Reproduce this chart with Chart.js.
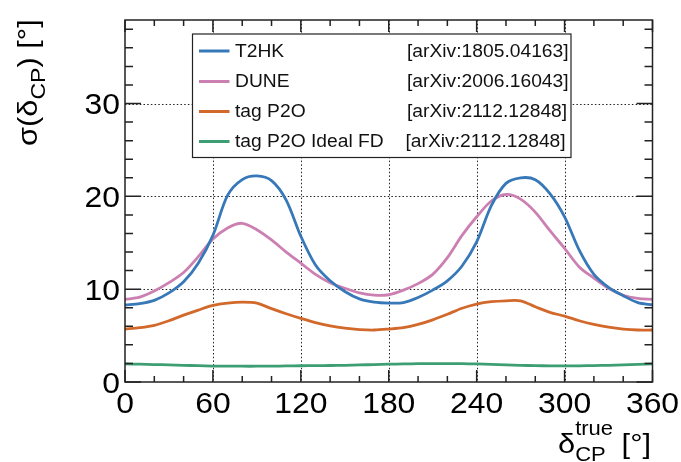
<!DOCTYPE html>
<html>
<head>
<meta charset="utf-8">
<script src="https://cdn.jsdelivr.net/npm/chart.js@4.4.1/dist/chart.umd.min.js"></script>
<style>
html,body{margin:0;padding:0;background:#fff;}
canvas{display:block;}
</style>
</head>
<body>
<canvas id="c" width="681" height="462"></canvas>
<script>
// ---- data ----
const deltaCP = [0,10,20,30,40,50,60,70,80,90,100,110,120,130,140,150,160,170,180,190,200,210,220,230,240,250,260,270,280,290,300,310,320,330,340,350,360];
const t2hk = [8.3,8.45,8.8,9.6,10.8,12.8,15.8,20.1,21.8,22.2,21.7,19.6,15.7,12.6,10.9,9.75,8.95,8.6,8.5,8.55,9.1,9.9,10.9,12.5,15.1,19.0,21.4,22.0,21.8,20.3,17.8,14.2,11.6,10.2,9.3,8.55,8.3];
const dune = [8.9,9.15,9.8,10.7,11.8,13.5,15.4,16.6,17.1,16.4,15.3,14.0,12.8,11.6,10.7,10.1,9.6,9.35,9.4,9.9,10.6,11.6,13.4,15.8,17.8,19.5,20.2,19.7,18.3,16.3,14.4,12.4,11.2,10.1,9.35,9.0,8.9];
const tagP2O = [5.7,5.85,6.1,6.6,7.2,7.75,8.25,8.5,8.6,8.5,7.9,7.35,6.85,6.4,6.05,5.8,5.65,5.6,5.7,5.85,6.2,6.7,7.3,7.95,8.4,8.65,8.75,8.75,8.1,7.5,7.1,6.6,6.2,5.9,5.7,5.6,5.6];
const tagP2OIdeal = [1.95,1.92,1.88,1.85,1.8,1.76,1.72,1.71,1.7,1.7,1.71,1.73,1.75,1.76,1.78,1.8,1.84,1.88,1.92,1.95,1.97,1.98,1.98,1.97,1.95,1.9,1.85,1.8,1.76,1.74,1.73,1.74,1.77,1.8,1.85,1.9,1.95];
const seriesNames = ["T2HK","DUNE","tag P2O","tag P2O Ideal FD"];
const seriesRefs = ["[arXiv:1805.04163]","[arXiv:2006.16043]","[arXiv:2112.12848]","[arXiv:2112.12848]"];
const xTickLabels = [0,60,120,180,240,300,360];
const yTickLabels = [0,10,20,30];

const colors = ["#3778b9","#cc80b2","#d2682a","#3d9e74"];
const FONT = "'Liberation Sans', Arial, Helvetica, sans-serif";
const SX = 1.1; // horizontal glyph stretch seen in the reference

const allSeries = [t2hk, dune, tagP2O, tagP2OIdeal];
const datasets = allSeries.map((arr,i)=>({
  label: seriesNames[i],
  data: deltaCP.map((x,j)=>({x:x,y:arr[j]})),
  borderColor: colors[i],
  borderWidth: 2.8,
  pointRadius: 0,
  tension: 0.3,
  fill: false
}));

function sText(ctx, t, x, y, size, align){
  ctx.save();
  ctx.translate(x,y);
  ctx.scale(SX,1);
  ctx.font = size + "px " + FONT;
  ctx.textAlign = align || "left";
  ctx.fillText(t,0,0);
  ctx.restore();
}

function richText(ctx, parts, x, y, sx){
  ctx.save();
  ctx.translate(x,y);
  ctx.scale(sx,1);
  ctx.textAlign = "left";
  let cx = 0;
  for(const p of parts){
    if(p.stack){
      let w = 0;
      for(const s of p.stack){
        ctx.font = s.size + "px " + FONT;
        ctx.fillText(s.t, cx, s.dy);
        w = Math.max(w, ctx.measureText(s.t).width);
      }
      cx += w;
    } else {
      ctx.font = p.size + "px " + FONT;
      ctx.fillText(p.t, cx, (p.dy||0));
      cx += ctx.measureText(p.t).width;
    }
  }
  ctx.restore();
}

const rootStyle = {
  id: 'rootStyle',
  beforeDatasetsDraw(chart){
    const {ctx, chartArea:a, scales:{x,y}} = chart;
    ctx.save();
    ctx.strokeStyle = "#222";
    ctx.lineWidth = 1;
    ctx.setLineDash([1.5,2.2]);
    for(const v of xTickLabels){
      if(v===0||v===360) continue;
      const px = Math.round(x.getPixelForValue(v))+0.5;
      ctx.beginPath(); ctx.moveTo(px,a.top); ctx.lineTo(px,a.bottom); ctx.stroke();
    }
    for(const v of yTickLabels){
      if(v===0) continue;
      const py = Math.round(y.getPixelForValue(v))+0.5;
      ctx.beginPath(); ctx.moveTo(a.left,py); ctx.lineTo(a.right,py); ctx.stroke();
    }
    ctx.restore();
  },
  afterDatasetsDraw(chart){
    const {ctx, chartArea:a, scales:{x,y}} = chart;
    ctx.save();
    ctx.strokeStyle = "#222";
    ctx.lineWidth = 1.5;
    ctx.setLineDash([]);
    // ticks
    ctx.beginPath();
    for(let v=0; v<=360; v+=20){
      const px = x.getPixelForValue(v);
      const len = (v%60===0)?12:6;
      ctx.moveTo(px,a.bottom); ctx.lineTo(px,a.bottom-len);
      ctx.moveTo(px,a.top); ctx.lineTo(px,a.top+len);
    }
    for(let v=0; v<=38; v+=2){
      const py = y.getPixelForValue(v);
      const len = (v%10===0)?16:8;
      ctx.moveTo(a.left,py); ctx.lineTo(a.left+len,py);
      ctx.moveTo(a.right,py); ctx.lineTo(a.right-len,py);
    }
    ctx.stroke();
    // frame
    ctx.strokeRect(a.left, a.top, a.right-a.left, a.bottom-a.top);

    // tick labels (positions from the Chart.js scales)
    ctx.fillStyle = "#000";
    ctx.textBaseline = "alphabetic";
    for(const t of x.ticks){
      sText(ctx, String(t.value), x.getPixelForValue(t.value), a.bottom + 31, 29, "center");
    }
    for(const t of y.ticks){
      sText(ctx, String(t.value), a.left - 5, y.getPixelForValue(t.value) + 10.5, 29, "right");
    }

    // legend
    const L = 192.5, T = 34, R = 571, B = 157.5;
    ctx.fillStyle = "#fff";
    ctx.fillRect(L,T,R-L,B-T);
    ctx.lineWidth = 1.2;
    ctx.strokeStyle = "#222";
    ctx.strokeRect(L,T,R-L,B-T);
    const rows = [51,81.5,111.5,141.5];
    ctx.textBaseline = "middle";
    for(let i=0;i<4;i++){
      ctx.strokeStyle = colors[i];
      ctx.lineWidth = 3;
      ctx.beginPath(); ctx.moveTo(199,rows[i]); ctx.lineTo(229.5,rows[i]); ctx.stroke();
      ctx.fillStyle = "#111";
      sText(ctx, seriesNames[i], 235, rows[i]+1, 17.5, "left");
      sText(ctx, seriesRefs[i], i===3?405.5:407, rows[i]+1, 17.5, "left");
    }

    // axis titles
    ctx.textBaseline = "alphabetic";
    ctx.fillStyle = "#000";
    richText(ctx, [
      {t:"δ", size:28},
      {stack:[{t:"true", size:20, dy:-18},{t:"CP", size:20, dy:8}]},
      {t:" [°]", size:28}
    ], 558, 453, SX);

    ctx.save();
    ctx.translate(37, 146);
    ctx.rotate(-Math.PI/2);
    richText(ctx, [
      {t:"σ(δ", size:28},
      {t:"CP", size:21, dy:8},
      {t:") [°]", size:28}
    ], 0, 0, SX);
    ctx.restore();

    ctx.restore();
  }
};

new Chart(document.getElementById('c'), {
  type: 'line',
  data: { datasets },
  options: {
    responsive: false,
    animation: false,
    devicePixelRatio: 1,
    layout: { padding: { left: 0, right: 28.5, top: 20, bottom: 0 } },
    plugins: { legend: { display: false }, tooltip: { enabled: false } },
    scales: {
      x: {
        type: 'linear', min: 0, max: 360,
        afterBuildTicks: s => { s.ticks = xTickLabels.map(v => ({ value: v })); },
        afterFit: s => { s.height = 80; },
        ticks: { display: false },
        grid: { display: false, drawTicks: false },
        border: { display: false }
      },
      y: {
        type: 'linear', min: 0, max: 39,
        afterBuildTicks: s => { s.ticks = yTickLabels.map(v => ({ value: v })); },
        afterFit: s => { s.width = 125; },
        ticks: { display: false },
        grid: { display: false, drawTicks: false },
        border: { display: false }
      }
    }
  },
  plugins: [rootStyle]
});
</script>
</body>
</html>
